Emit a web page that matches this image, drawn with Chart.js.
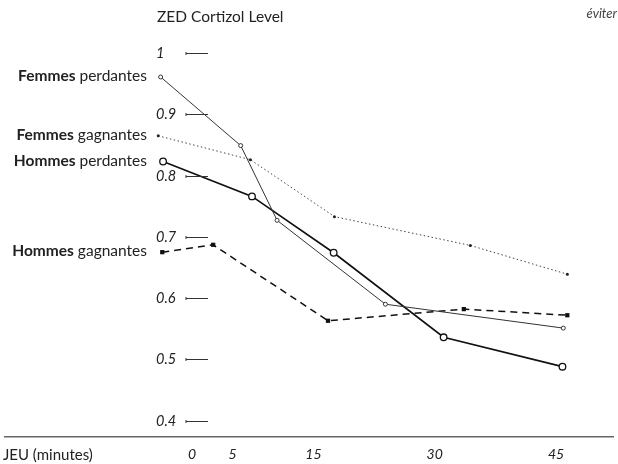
<!DOCTYPE html>
<html>
<head>
<meta charset="utf-8">
<script src="https://cdn.jsdelivr.net/npm/chart.js@4/dist/chart.umd.min.js"></script>
<style>
  html, body { margin: 0; padding: 0; background: #fff; }
  #wrap { width: 618px; height: 464px; position: relative; }
</style>
</head>
<body>
<div id="wrap"><canvas id="c" width="618" height="464"></canvas></div>
<script>
// ---- Data ----
const xTickValues = [0, 5, 15, 30, 45];
const yTickValues = [1, 0.9, 0.8, 0.7, 0.6, 0.5, 0.4];
const yTickLabels = ['1', '0.9', '0.8', '0.7', '0.6', '0.5', '0.4'];

const seriesGender = ['Femmes', 'Femmes', 'Hommes', 'Hommes'];
const seriesOutcome = ['perdantes', 'gagnantes', 'perdantes', 'gagnantes'];

const femmesPerdantesX = [-3.9, 6.0, 10.5, 23.9, 45.9];
const femmesPerdantesY = [0.961, 0.849, 0.727, 0.590, 0.551];
const femmesGagnantesX = [-4.2, 7.2, 17.6, 34.4, 46.4];
const femmesGagnantesY = [0.865, 0.826, 0.733, 0.686, 0.639];
const hommesPerdantesX = [-3.6, 7.4, 17.5, 31.1, 45.8];
const hommesPerdantesY = [0.823, 0.766, 0.674, 0.536, 0.488];
const hommesGagnantesX = [-3.7, 2.6, 16.8, 33.6, 46.4];
const hommesGagnantesY = [0.675, 0.687, 0.563, 0.582, 0.572];

const titleText = 'ZED Cortizol Level';
const cornerText = 'éviter';
const xAxisTitle = 'JEU (minutes)';

function pts(xs, ys) { return xs.map((x, i) => ({ x: x, y: ys[i] })); }

const FONT = 'Lato, "Open Sans", sans-serif';
const INK = '#222';

const datasets = [
  { data: pts(femmesPerdantesX, femmesPerdantesY), borderColor: '#333', borderWidth: 1,
    pointRadius: 2, pointBackgroundColor: '#fff', pointBorderColor: '#333', pointBorderWidth: 1 },
  { data: pts(femmesGagnantesX, femmesGagnantesY), borderColor: '#444', borderWidth: 1, borderDash: [1.5, 2.5],
    pointRadius: 1.5, pointBackgroundColor: '#222', pointBorderColor: '#222', pointBorderWidth: 0 },
  { data: pts(hommesPerdantesX, hommesPerdantesY), borderColor: '#111', borderWidth: 1.7,
    pointRadius: 3.3, pointBackgroundColor: '#fff', pointBorderColor: '#111', pointBorderWidth: 1.3 },
  { data: pts(hommesGagnantesX, hommesGagnantesY), borderColor: '#111', borderWidth: 1.5, borderDash: [7, 5],
    pointStyle: 'rect', pointRadius: 3, pointBackgroundColor: '#111', pointBorderColor: '#111', pointBorderWidth: 0 }
].map(d => Object.assign({ tension: 0, fill: false, clip: false, pointHoverRadius: d.pointRadius }, d));

const decor = {
  id: 'decor',
  afterDraw(chart) {
    const ctx = chart.ctx;
    const ys = chart.scales.y;
    ctx.save();
    // title
    ctx.fillStyle = INK;
    ctx.textBaseline = 'middle';
    ctx.textAlign = 'left';
    ctx.font = '15.5px ' + FONT;
    ctx.fillText(titleText, 157, 17);
    // corner
    ctx.textAlign = 'right';
    ctx.font = 'italic 13px ' + FONT;
    ctx.fillStyle = '#444';
    ctx.fillText(cornerText, 617, 14);
    // x axis title
    ctx.fillStyle = INK;
    ctx.textAlign = 'left';
    ctx.font = '15px ' + FONT;
    ctx.fillText(xAxisTitle, 3, 455);
    // y ticks
    yTickValues.forEach((v, i) => {
      const py = Math.round(ys.getPixelForValue(v)) + 0.5;
      ctx.strokeStyle = '#333';
      ctx.lineWidth = 1;
      ctx.beginPath();
      ctx.moveTo(186, py); ctx.lineTo(208, py);
      ctx.moveTo(186, py - 1.5); ctx.lineTo(186, py + 1.5);
      ctx.stroke();
      ctx.fillStyle = INK;
      ctx.font = 'italic 14.5px ' + FONT;
      ctx.textAlign = 'left';
      ctx.fillText(yTickLabels[i], 156, py);
    });
    // series labels
    chart.data.datasets.forEach((ds, i) => {
      const meta = chart.getDatasetMeta(i);
      const py = meta.data[0].y - 1;
      const right = 147;
      ctx.font = '15.5px ' + FONT;
      const w2 = ctx.measureText(' ' + seriesOutcome[i]).width;
      ctx.textAlign = 'right';
      ctx.fillStyle = INK;
      ctx.fillText(' ' + seriesOutcome[i], right, py);
      ctx.font = 'bold 15.5px ' + FONT;
      ctx.fillText(seriesGender[i], right - w2, py);
    });
    ctx.restore();
  }
};

new Chart(document.getElementById('c'), {
  type: 'line',
  data: { datasets: datasets },
  options: {
    responsive: false,
    animation: false,
    layout: { padding: 0 },
    plugins: { legend: { display: false }, title: { display: false }, tooltip: { enabled: false } },
    scales: {
      x: {
        type: 'linear',
        min: -23.2, max: 52.1,
        afterBuildTicks: s => { s.ticks = xTickValues.map(v => ({ value: v })); },
        afterFit: s => { s.height = 27; },
        grid: { display: false, drawTicks: false },
        border: { display: true, color: '#666', width: 1.5 },
        ticks: { padding: 9, color: INK, font: { family: FONT, size: 14, style: 'italic' },
                 callback: v => String(v), maxRotation: 0, autoSkip: false }
      },
      y: {
        type: 'linear',
        display: false,
        min: 0.3732, max: 1.0792
      }
    }
  },
  plugins: [decor]
});
</script>
</body>
</html>
